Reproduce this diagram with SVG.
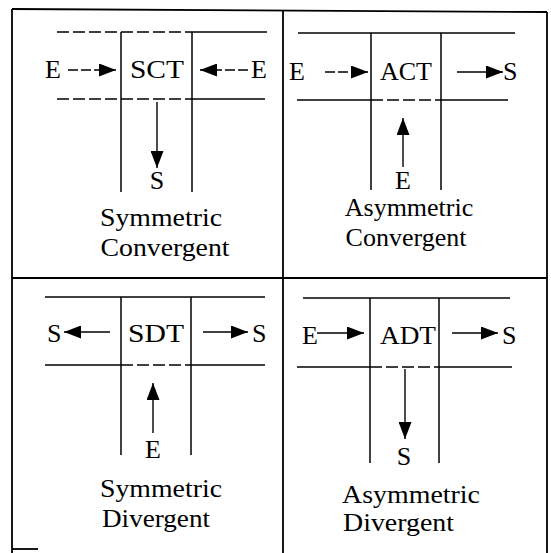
<svg xmlns="http://www.w3.org/2000/svg" width="551" height="553" viewBox="0 0 551 553">
<defs>
<marker id="ah" markerUnits="userSpaceOnUse" markerWidth="18" markerHeight="13" refX="17" refY="6.5" orient="auto" viewBox="0 0 18 13">
<path d="M0,0 L17,6.5 L0,13 z" fill="#000"/>
</marker>
</defs>
<style>
.fr{stroke:#000;stroke-width:1.8;fill:none}
.ln{stroke:#000;stroke-width:1.5;fill:none}
.ds{stroke:#000;stroke-width:1.5;fill:none;stroke-dasharray:12 4}
.ar{stroke:#000;stroke-width:1.4;fill:none;marker-end:url(#ah)}
.ard{stroke:#000;stroke-width:1.4;fill:none;marker-end:url(#ah);stroke-dasharray:10 3}
text{font-family:"Liberation Serif","Times New Roman","DejaVu Serif",serif;font-size:26px;fill:#000}
.m{text-anchor:middle}
</style>
<rect width="551" height="553" fill="#fff"/>
<g id="frame">
<line class="fr" x1="12" y1="9" x2="547" y2="12"/>
<line class="fr" x1="12" y1="9" x2="12" y2="553"/>
<line class="fr" x1="283" y1="10" x2="283" y2="553"/>
<line class="fr" x1="547" y1="12" x2="547" y2="553"/>
<line class="fr" x1="12" y1="278" x2="547" y2="278"/>
<line class="fr" x1="12" y1="549" x2="38" y2="549"/>
</g>
<g id="sct">
<line class="ds" x1="57" y1="32" x2="192" y2="32"/>
<line class="ln" x1="192" y1="32" x2="267" y2="32"/>
<line class="ds" x1="57" y1="99" x2="192" y2="99"/>
<line class="ln" x1="192" y1="99" x2="265" y2="99"/>
<line class="ln" x1="121" y1="32" x2="121" y2="192"/>
<line class="ln" x1="192" y1="32" x2="192" y2="192"/>
<text x="45" y="78">E</text>
<text class="m" x="157" y="78" textLength="54" lengthAdjust="spacingAndGlyphs">SCT</text>
<text x="251" y="78">E</text>
<text class="m" x="157" y="189">S</text>
<text class="m" x="161" y="226" textLength="122" lengthAdjust="spacingAndGlyphs">Symmetric</text>
<text class="m" x="165" y="256" textLength="129" lengthAdjust="spacingAndGlyphs">Convergent</text>
</g>
<g id="act">
<line class="ln" x1="298" y1="33" x2="515" y2="33"/>
<line class="ln" x1="297" y1="100" x2="371" y2="100"/>
<line class="ds" x1="371" y1="100" x2="441" y2="100"/>
<line class="ln" x1="441" y1="100" x2="508" y2="100"/>
<line class="ln" x1="371" y1="33" x2="371" y2="190"/>
<line class="ln" x1="441" y1="33" x2="441" y2="190"/>
<text x="289" y="80">E</text>
<text class="m" x="406" y="80">ACT</text>
<text x="503" y="80">S</text>
<text class="m" x="403" y="189">E</text>
<text class="m" x="409" y="216">Asymmetric</text>
<text class="m" x="406" y="246">Convergent</text>
</g>
<g id="sdt">
<line class="ln" x1="45" y1="297" x2="265" y2="297"/>
<line class="ln" x1="45" y1="365" x2="121" y2="365"/>
<line class="ds" x1="121" y1="365" x2="191" y2="365"/>
<line class="ln" x1="191" y1="365" x2="265" y2="365"/>
<line class="ln" x1="121" y1="297" x2="121" y2="455"/>
<line class="ln" x1="191" y1="297" x2="191" y2="455"/>
<text x="47" y="342">S</text>
<text class="m" x="156" y="342" textLength="56" lengthAdjust="spacingAndGlyphs">SDT</text>
<text x="252" y="342">S</text>
<text class="m" x="153" y="458">E</text>
<text class="m" x="161" y="497" textLength="122" lengthAdjust="spacingAndGlyphs">Symmetric</text>
<text class="m" x="156" y="527" textLength="108" lengthAdjust="spacingAndGlyphs">Divergent</text>
</g>
<g id="adt">
<line class="ln" x1="303" y1="298" x2="510" y2="298"/>
<line class="ln" x1="297" y1="367" x2="370" y2="367"/>
<line class="ds" x1="370" y1="367" x2="439" y2="367"/>
<line class="ln" x1="439" y1="367" x2="512" y2="367"/>
<line class="ln" x1="370" y1="298" x2="370" y2="463"/>
<line class="ln" x1="439" y1="298" x2="439" y2="463"/>
<text x="302" y="344">E</text>
<text class="m" x="408" y="344" textLength="56" lengthAdjust="spacingAndGlyphs">ADT</text>
<text x="502" y="344">S</text>
<text class="m" x="404" y="465">S</text>
<text x="342" y="503" textLength="138" lengthAdjust="spacingAndGlyphs">Asymmetric</text>
<text x="343" y="531" textLength="111" lengthAdjust="spacingAndGlyphs">Divergent</text>
</g>
<g id="connectors">
<line class="ard" x1="68" y1="70" x2="116" y2="70"/>
<line class="ard" x1="248" y1="70" x2="200" y2="70"/>
<line class="ar" x1="157" y1="102" x2="157" y2="168"/>
<line class="ard" x1="325" y1="72" x2="368" y2="72"/>
<line class="ar" x1="457" y1="72" x2="503" y2="72"/>
<line class="ar" x1="403" y1="167" x2="403" y2="118"/>
<line class="ar" x1="110" y1="332" x2="64" y2="332"/>
<line class="ar" x1="203" y1="332" x2="248" y2="332"/>
<line class="ar" x1="153" y1="433" x2="153" y2="383"/>
<line class="ar" x1="317" y1="333" x2="364" y2="333"/>
<line class="ar" x1="452" y1="333" x2="498" y2="333"/>
<line class="ar" x1="405" y1="369" x2="405" y2="439"/>
</g>
</svg>
